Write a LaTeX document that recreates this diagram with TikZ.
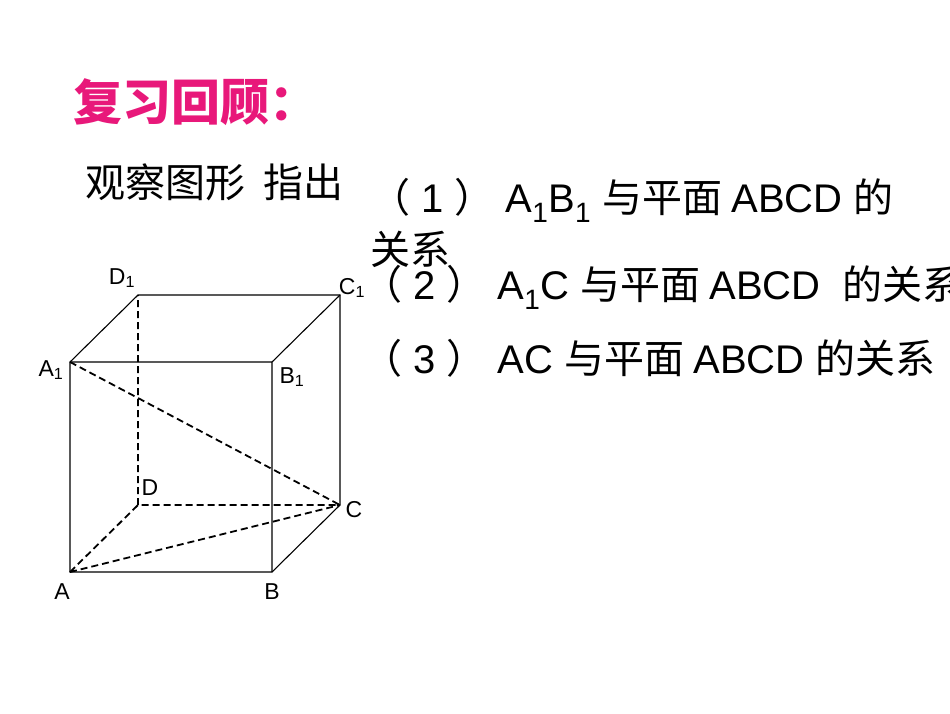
\documentclass[tikz,border=0pt]{standalone}
\usepackage{fontspec}
\setmainfont{Liberation Sans}
\newfontfamily\cjk{Noto Sans CJK SC}
\definecolor{pinkt}{HTML}{E8187A}
\begin{document}
\begin{tikzpicture}[x=1pt,y=-1pt,
 edge/.style={line width=1.1pt,black},
 hid/.style={line width=1.8pt,dash pattern=on 7pt off 4pt},
 vlab/.style={font=\fontsize{23}{24}\selectfont,inner sep=0pt},
 body/.style={font=\fontsize{40}{42}\selectfont,inner sep=0pt,anchor=base west}]
\useasboundingbox (0,0) rectangle (950,713);
\coordinate (A) at (70,572); \coordinate (B) at (272,572);
\coordinate (C) at (340,505); \coordinate (D) at (138,505);
\coordinate (A1) at (70,362); \coordinate (B1) at (272,362);
\coordinate (C1) at (340,295); \coordinate (D1) at (138,295);
\draw[edge] (A)--(B)--(C)--(C1)--(D1)--(A1)--cycle;
\draw[edge] (A1)--(B1)--(C1) (B1)--(B);
\draw[hid] (D)--(D1) (A)--(D)--(C) (A)--(C) (A1)--(C);
\node[vlab] (lA) at (62,592) {A};
\node[vlab] (lB) at (272,592) {B};
\node[vlab] (lC) at (354,510) {C};
\node[vlab] (lD) at (150,488) {D};
\node[vlab] (lA1) at (51,370) {A\textsubscript{1}};
\node[vlab] (lB1) at (292,377) {B\textsubscript{1}};
\node[vlab] (lC1) at (352,288) {C\textsubscript{1}};
\node[vlab] (lD1) at (122,278) {D\textsubscript{1}};
\node[inner sep=0pt,anchor=base west,text=pinkt,font=\fontsize{49}{52}\selectfont\cjk\bfseries] (t) at (73,120) {复习回顾：};
\node[body,font=\fontsize{40}{42}\selectfont] (s) at (85,197) {\cjk 观察图形\ \ 指出};
\node[body] (q1) at (370,212) {\cjk （\rmfamily\ 1 \cjk ）\rmfamily\ A\textsubscript{1}B\textsubscript{1} \cjk 与平面 \rmfamily ABCD \cjk 的};
\node[body] (q1b) at (370,264) {\cjk 关系};
\node[body] (q2) at (362,299) {\cjk （\rmfamily\ 2 \cjk ）\rmfamily\ A\textsubscript{1}C \cjk 与平面 \rmfamily ABCD \ \cjk 的关系};
\node[body] (q3) at (362,373) {\cjk （\rmfamily\ 3 \cjk ）\rmfamily\ AC \cjk 与平面 \rmfamily ABCD \cjk 的关系};
\end{tikzpicture}
\end{document}
